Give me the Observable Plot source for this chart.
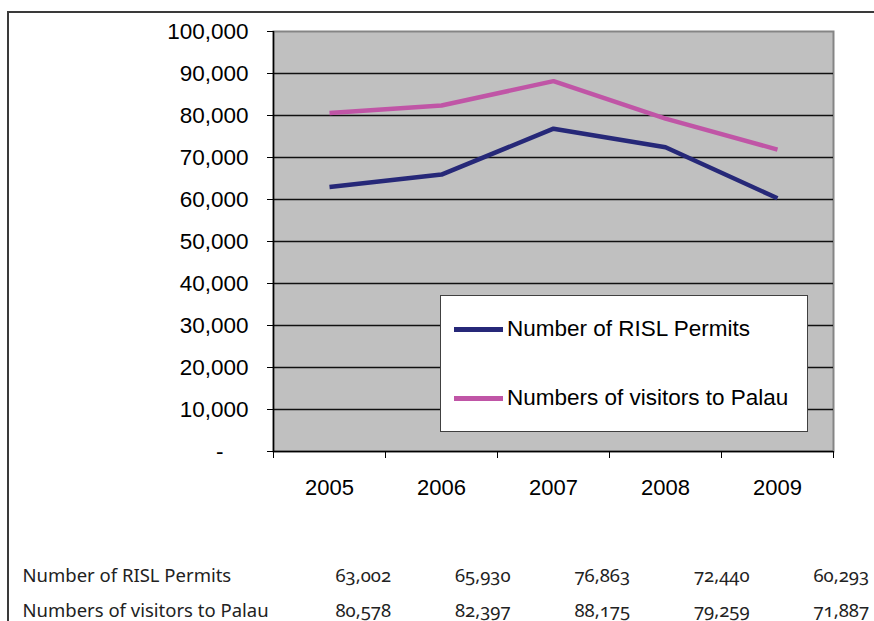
<!DOCTYPE html>
<html><head><meta charset="utf-8">
<script src="https://cdn.jsdelivr.net/npm/d3@7"></script>
<script src="https://cdn.jsdelivr.net/npm/@observablehq/plot@0.6"></script>
<style>
body{margin:0;background:#fff;}
#wrap{position:relative;width:874px;height:621px;overflow:hidden;font-family:"Liberation Sans",Arial,sans-serif;}
#frame{position:absolute;left:7px;top:11px;right:-10px;bottom:-10px;border-top:2px solid #3a3a3a;border-left:2px solid #3a3a3a;}
#chart{position:absolute;left:0;top:0;}
#legend{position:absolute;left:440px;top:295px;width:366px;height:135px;background:#fff;border:1.5px solid #404040;}
.item{position:absolute;left:13px;height:26px;display:flex;align-items:center;font-size:22.5px;color:#000;white-space:nowrap;}
.swatch{width:49px;height:5px;margin-right:4px;}
#table{position:absolute;left:0;top:540px;}
#table text{font-variant-numeric:oldstyle-nums;}
</style></head>
<body><div id="wrap"><div id="frame"></div><div id="chart"></div><div id="legend"></div><div id="table"></div></div>
<script>
const years = [2005, 2006, 2007, 2008, 2009];
const risl = [63002, 65930, 76863, 72440, 60293];
const visitors = [80578, 82397, 88175, 79259, 71887];
const seriesNames = ["Number of RISL Permits", "Numbers of visitors to Palau"];
const seriesColors = ["#262878", "#c055a6"];
const yTicks = [0, 10000, 20000, 30000, 40000, 50000, 60000, 70000, 80000, 90000, 100000];

const data = years.flatMap((yr, i) => [
  {year: yr, value: risl[i], series: seriesNames[0]},
  {year: yr, value: visitors[i], series: seriesNames[1]}
]);
const boundaries = years.map(y => y - 0.5).concat([years[years.length - 1] + 0.5]);
const fmt = d3.format(",");

const chart = Plot.plot({
  width: 874, height: 540,
  marginLeft: 273, marginRight: 41, marginTop: 31, marginBottom: 89,
  style: {fontFamily: '"Liberation Sans", Arial, sans-serif', background: "transparent", overflow: "visible", color: "#000"},
  x: {type: "linear", domain: [boundaries[0], boundaries[boundaries.length - 1]]},
  y: {domain: [yTicks[0], yTicks[yTicks.length - 1]]},
  color: {domain: seriesNames, range: seriesColors},
  marks: [
    Plot.frame({fill: "#c0c0c0", stroke: "#858585", strokeWidth: 2}),
    Plot.gridY(yTicks.slice(1, -1), {stroke: "#111", strokeOpacity: 1, strokeWidth: 1.3}),
    Plot.line(data, {x: "year", y: "value", z: "series", stroke: "series", strokeWidth: 4.5, strokeLinejoin: "miter", strokeLinecap: "butt"}),
    Plot.ruleX([boundaries[0]], {stroke: "#000", strokeWidth: 1.5}),
    Plot.ruleY([yTicks[0]], {stroke: "#000", strokeWidth: 1.5}),
    Plot.axisY({ticks: yTicks, tickSize: 6, tickPadding: 19, fontSize: 22.5, label: null,
      tickFormat: v => v === 0 ? "-\u00a0\u00a0\u00a0\u00a0" : fmt(v)}),
    Plot.axisX({ticks: boundaries, tickSize: 7, tickFormat: () => "", label: null}),
    Plot.axisX({ticks: years, tickSize: 0, tickPadding: 28, fontSize: 22, label: null, tickFormat: d => String(d)})
  ]
});
document.getElementById("chart").appendChild(chart);

// legend
const legend = document.getElementById("legend");
const rowTops = [20, 89];
seriesNames.forEach((name, i) => {
  const item = document.createElement("div");
  item.className = "item";
  item.style.top = rowTops[i] + "px";
  const sw = document.createElement("span");
  sw.className = "swatch";
  sw.style.background = seriesColors[i];
  const label = document.createElement("span");
  label.textContent = name;
  item.appendChild(sw); item.appendChild(label);
  legend.appendChild(item);
});

// data table
const tableData = years.flatMap((yr, i) => [
  {year: yr, series: seriesNames[0], v: risl[i]},
  {year: yr, series: seriesNames[1], v: visitors[i]}
]);
const table = Plot.plot({
  width: 874, height: 81,
  marginLeft: 22, marginRight: 0, marginTop: 0, marginBottom: 0,
  style: {fontFamily: '"Noto Sans", "Open Sans", sans-serif', background: "transparent", overflow: "visible"},
  x: {type: "linear", domain: [years[0], years[years.length - 1]], range: [335, 813], axis: null},
  y: {type: "point", domain: seriesNames, range: [36, 71], padding: 0, axis: null},
  marks: [
    Plot.text(seriesNames, {y: d => d, text: d => d, frameAnchor: "left", textAnchor: "start", fontSize: 18.5, fill: "#222"}),
    Plot.text(tableData, {x: "year", y: "series", text: d => fmt(d.v), textAnchor: "start", fontSize: 18.5, fill: "#222"})
  ]
});
document.getElementById("table").appendChild(table);
</script>
</body></html>
